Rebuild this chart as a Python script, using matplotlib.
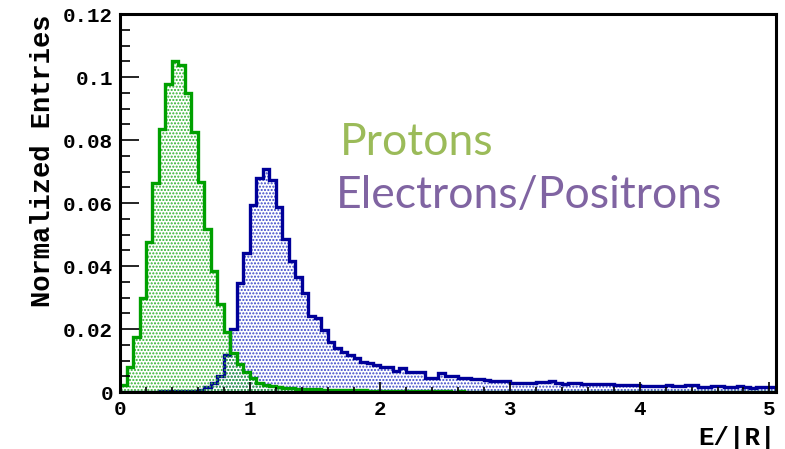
import numpy as np
import matplotlib
matplotlib.use('Agg')
from matplotlib import pyplot as plt
from matplotlib.ticker import MultipleLocator, FuncFormatter

# E/|R| histograms, 0.05 wide bins from 0 to 5.05
bin_width = 0.05
protons = [0.0022, 0.008, 0.0174, 0.030, 0.0475, 0.0665, 0.0835, 0.0977, 0.105, 0.1038,
           0.095, 0.0826, 0.0667, 0.0518, 0.0385, 0.028, 0.0192, 0.0125, 0.0089, 0.0062,
           0.0045, 0.003, 0.0021, 0.0018, 0.0015, 0.0014, 0.0012, 0.0011, 0.001, 0.0009,
           0.0009, 0.0008, 0.0007, 0.0007, 0.0006, 0.0006, 0.0005, 0.0005, 0.0004, 0.0004,
           0.0004, 0.0003, 0.0003, 0.0003, 0.0003, 0.0002, 0.0002, 0.0002, 0.0002, 0.0002,
           0.0002, 0.0001, 0.0002, 0.0001, 0.0001, 0.0001, 0.0001, 0.0001, 0.0001, 0.0001,
           0.0001, 0.0001, 0.0001, 0.0001, 0.0001, 0.0001, 0.0001, 0.0001, 0.0001, 0.0001,
           0.0001, 0.0001, 0.0001, 0.0001, 0.0001, 0.0001, 0.0001, 0.0001, 0.0001, 0.0001,
           0.0001, 0.0001, 0.0001, 0.0001, 0.0001, 0.0001, 0.0001, 0.0001, 0.0001, 0.0001,
           0.0001, 0.0001, 0.0001, 0.0001, 0.0001, 0.0001, 0.0001, 0.0001, 0.0001, 0.0001,
           0.0001]
electrons = [0.0001, 0.0001, 0.0001, 0.0001, 0.0001, 0.0001, 0.0002, 0.0002, 0.0002, 0.0003,
             0.0003, 0.0004, 0.0007, 0.0015, 0.003, 0.005, 0.0117, 0.020, 0.0345, 0.044,
             0.0594, 0.0678, 0.0707, 0.0673, 0.0588, 0.0486, 0.0417, 0.0366, 0.0313, 0.0241,
             0.0234, 0.0197, 0.016, 0.0139, 0.0128, 0.0117, 0.0107, 0.0096, 0.0091, 0.0086,
             0.0078, 0.008, 0.0067, 0.0075, 0.0063, 0.0065, 0.0065, 0.0043, 0.0043, 0.0059,
             0.0050, 0.0052, 0.0045, 0.0045, 0.0040, 0.0040, 0.0038, 0.0036, 0.0036, 0.0036,
             0.0030, 0.0030, 0.0030, 0.0030, 0.0033, 0.0033, 0.0035, 0.0028, 0.0024, 0.0030,
             0.0030, 0.0025, 0.0025, 0.0025, 0.0026, 0.0025, 0.0023, 0.0022, 0.0023, 0.0021,
             0.0019, 0.0019, 0.0019, 0.0020, 0.0021, 0.0019, 0.0020, 0.0023, 0.0023, 0.0015,
             0.0015, 0.0018, 0.0018, 0.0017, 0.0017, 0.0019, 0.0015, 0.0014, 0.0016, 0.0016,
             0.0016]
y_ticks = [0, 0.02, 0.04, 0.06, 0.08, 0.1, 0.12]
x_ticks = [0, 1, 2, 3, 4, 5]

edges = np.arange(len(protons) + 1) * bin_width

mono = {'family': 'Liberation Mono', 'weight': 'bold'}
plt.rcParams['hatch.linewidth'] = 1.0

fig = plt.figure(figsize=(7.85, 4.49), dpi=100)
ax = fig.add_axes([0.1529, 0.1269, 0.8356, 0.8419])

# electrons / positrons
ax.stairs(electrons, edges, fill=True, facecolor='none', edgecolor='#3a46c8',
          hatch='.....', linewidth=0)
ax.stairs(electrons, edges, color='#000099', linewidth=2.4)
# protons
ax.stairs(protons, edges, fill=True, facecolor='none', edgecolor='#2fb02f',
          hatch='.....', linewidth=0)
ax.stairs(protons, edges, color='#00a000', linewidth=2.4)

ax.set_xlim(0, edges[-1])
ax.set_ylim(0, 0.12)

ax.xaxis.set_minor_locator(MultipleLocator(0.2))
ax.yaxis.set_minor_locator(MultipleLocator(0.005))
ax.set_xticks(x_ticks)
ax.set_yticks(y_ticks)
ax.yaxis.set_major_formatter(FuncFormatter(lambda v, p: '%g' % round(v, 3)))
ax.xaxis.set_major_formatter(FuncFormatter(lambda v, p: '%g' % v))

ax.tick_params(axis='y', which='major', direction='in', length=14, width=1.2, pad=5)
ax.tick_params(axis='y', which='minor', direction='in', length=7, width=1.2)
ax.tick_params(axis='x', which='major', direction='in', length=7, width=1.2, pad=6)
ax.tick_params(axis='x', which='minor', direction='in', length=3.5, width=1.2)
for lab in ax.get_xticklabels() + ax.get_yticklabels():
    lab.set_fontfamily('Liberation Mono')
    lab.set_fontweight('bold')
    lab.set_fontsize(15)

for s in ax.spines.values():
    s.set_linewidth(2.2)

ax.set_ylabel('Normalized Entries', fontdict=mono, fontsize=19.5, loc='top', labelpad=5)
ax.set_xlabel('E/|R|', fontdict=mono, fontsize=18.5, loc='right', labelpad=5)

ax.text(1.69, 0.0752, 'Protons', color='#9bbb59', fontsize=32, family='Lato',
        va='baseline')
ax.text(1.66, 0.0584, 'Electrons/Positrons', color='#8064a2', fontsize=32,
        family='Lato', va='baseline')

fig.savefig('out.png', dpi=100)
